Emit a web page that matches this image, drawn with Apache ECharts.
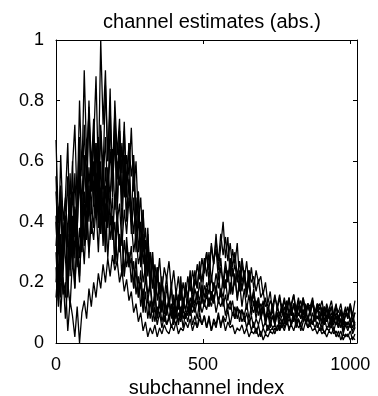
<!DOCTYPE html>
<html>
<head>
<meta charset="utf-8">
<script src="https://cdn.jsdelivr.net/npm/echarts@6/dist/echarts.min.js"></script>
<style>html,body{margin:0;padding:0;background:#fff}#c{width:378px;height:396px}</style>
</head>
<body>
<div id="c"></div>
<script>
// values read every 8 subchannels: 0,8,...,1016
const subchannelStep = 8;
const xTicks = [0, 500, 1000];

const est1 = [0.42,0.18,0.50,0.26,0.38,0.55,0.22,0.60,0.35,0.48,0.68,0.30,0.62,0.45,0.78,0.50,
0.66,0.88,0.55,1.00,0.72,0.90,0.60,0.84,0.48,0.80,0.62,0.74,0.45,0.70,0.52,0.66,
0.40,0.60,0.35,0.50,0.28,0.44,0.22,0.38,0.18,0.30,0.12,0.25,0.16,0.22,0.10,0.19,
0.12,0.20,0.08,0.17,0.13,0.22,0.10,0.19,0.15,0.24,0.12,0.21,0.18,0.27,0.15,0.25,
0.30,0.20,0.33,0.26,0.36,0.24,0.32,0.40,0.28,0.35,0.22,0.31,0.26,0.33,0.20,0.28,
0.22,0.15,0.24,0.12,0.18,0.10,0.15,0.08,0.12,0.06,0.10,0.05,0.09,0.06,0.10,0.04,
0.08,0.05,0.09,0.04,0.07,0.10,0.05,0.08,0.04,0.07,0.09,0.05,0.08,0.06,0.09,0.05,
0.07,0.04,0.08,0.05,0.06,0.09,0.04,0.07,0.05,0.08,0.03,0.06,0.04,0.07,0.03,0.05];

const est2 = [0.55,0.30,0.62,0.40,0.48,0.66,0.35,0.58,0.72,0.45,0.80,0.55,0.90,0.62,0.76,0.50,
0.70,0.42,0.62,0.36,0.58,0.30,0.52,0.40,0.48,0.26,0.44,0.30,0.38,0.22,0.35,0.25,
0.32,0.18,0.28,0.15,0.24,0.12,0.22,0.14,0.19,0.10,0.17,0.08,0.14,0.10,0.16,0.09,
0.14,0.08,0.16,0.10,0.13,0.18,0.11,0.20,0.14,0.22,0.16,0.24,0.18,0.26,0.20,0.28,
0.22,0.30,0.20,0.27,0.31,0.21,0.28,0.18,0.25,0.20,0.26,0.16,0.23,0.14,0.20,0.12,
0.18,0.11,0.16,0.09,0.14,0.08,0.13,0.10,0.14,0.08,0.12,0.09,0.13,0.07,0.12,0.09,
0.13,0.08,0.12,0.15,0.09,0.13,0.08,0.12,0.14,0.09,0.13,0.07,0.11,0.14,0.08,0.12,
0.10,0.07,0.12,0.08,0.11,0.06,0.10,0.13,0.07,0.10,0.06,0.09,0.12,0.07,0.10,0.06];

const est3 = [0.25,0.12,0.32,0.20,0.15,0.36,0.24,0.42,0.18,0.38,0.28,0.48,0.32,0.55,0.40,0.60,
0.45,0.66,0.50,0.72,0.56,0.85,0.60,0.78,0.50,0.70,0.44,0.64,0.38,0.58,0.42,0.54,
0.36,0.48,0.30,0.42,0.25,0.36,0.20,0.32,0.18,0.28,0.14,0.24,0.12,0.20,0.15,0.22,
0.12,0.18,0.09,0.16,0.11,0.19,0.13,0.17,0.10,0.15,0.12,0.18,0.14,0.20,0.13,0.19,
0.16,0.21,0.14,0.20,0.17,0.23,0.15,0.22,0.18,0.24,0.16,0.25,0.19,0.23,0.17,0.26,
0.21,0.27,0.19,0.25,0.18,0.24,0.20,0.22,0.16,0.20,0.13,0.17,0.10,0.15,0.12,0.16,
0.11,0.15,0.10,0.14,0.12,0.16,0.09,0.14,0.11,0.15,0.10,0.13,0.12,0.15,0.09,0.13,
0.11,0.14,0.09,0.13,0.10,0.12,0.08,0.12,0.10,0.13,0.08,0.11,0.09,0.12,0.07,0.10];

const est4 = [0.32,0.45,0.20,0.40,0.28,0.15,0.36,0.25,0.44,0.30,0.20,0.42,0.34,0.50,0.28,0.46,
0.38,0.55,0.42,0.60,0.35,0.58,0.46,0.64,0.50,0.68,0.44,0.70,0.56,0.73,0.48,0.66,
0.55,0.62,0.42,0.50,0.30,0.44,0.25,0.36,0.20,0.30,0.15,0.25,0.12,0.20,0.16,0.11,
0.15,0.09,0.14,0.10,0.16,0.08,0.13,0.11,0.15,0.09,0.14,0.12,0.17,0.10,0.16,0.13,
0.18,0.12,0.17,0.14,0.19,0.13,0.18,0.15,0.21,0.14,0.20,0.16,0.22,0.15,0.21,0.17,
0.23,0.18,0.24,0.20,0.22,0.17,0.21,0.15,0.17,0.12,0.13,0.09,0.11,0.07,0.10,0.08,
0.11,0.07,0.10,0.08,0.12,0.07,0.11,0.09,0.12,0.07,0.10,0.08,0.11,0.06,0.10,0.08,
0.09,0.06,0.10,0.07,0.09,0.05,0.08,0.06,0.09,0.05,0.08,0.06,0.07,0.05,0.08,0.05];

const est5 = [0.67,0.40,0.52,0.30,0.48,0.35,0.56,0.28,0.45,0.38,0.55,0.32,0.50,0.40,0.58,0.44,
0.60,0.42,0.55,0.36,0.50,0.30,0.46,0.34,0.42,0.26,0.40,0.30,0.36,0.22,0.32,0.25,
0.28,0.18,0.24,0.15,0.20,0.10,0.17,0.08,0.14,0.07,0.12,0.06,0.10,0.05,0.09,0.06,
0.08,0.11,0.06,0.10,0.07,0.12,0.08,0.11,0.09,0.13,0.10,0.12,0.08,0.14,0.10,0.13,
0.11,0.15,0.12,0.16,0.10,0.14,0.12,0.15,0.09,0.13,0.11,0.14,0.08,0.12,0.10,0.11,
0.07,0.10,0.06,0.09,0.05,0.08,0.06,0.09,0.05,0.07,0.04,0.07,0.05,0.06,0.04,0.07,
0.06,0.09,0.07,0.10,0.06,0.09,0.07,0.10,0.08,0.11,0.07,0.09,0.06,0.10,0.07,0.09,
0.07,0.10,0.06,0.09,0.05,0.08,0.06,0.09,0.05,0.08,0.04,0.07,0.05,0.06,0.04,0.06];

const est6 = [0.40,0.22,0.30,0.16,0.20,0.04,0.14,0.09,0.02,0.12,0.00,0.10,0.14,0.08,0.18,0.12,
0.20,0.15,0.23,0.18,0.26,0.20,0.28,0.22,0.29,0.24,0.27,0.20,0.24,0.17,0.21,0.14,
0.17,0.10,0.13,0.07,0.10,0.04,0.07,0.02,0.05,0.03,0.06,0.02,0.05,0.03,0.06,0.04,
0.03,0.06,0.04,0.07,0.03,0.05,0.04,0.07,0.05,0.08,0.04,0.07,0.05,0.08,0.06,0.09,
0.05,0.08,0.04,0.07,0.05,0.09,0.06,0.08,0.04,0.07,0.05,0.06,0.03,0.05,0.04,0.06,
0.03,0.05,0.02,0.04,0.03,0.05,0.02,0.04,0.01,0.03,0.02,0.04,0.03,0.05,0.04,0.06,
0.05,0.07,0.06,0.08,0.06,0.09,0.07,0.08,0.06,0.09,0.07,0.08,0.06,0.07,0.05,0.07,
0.04,0.06,0.03,0.05,0.04,0.06,0.03,0.04,0.02,0.04,0.01,0.03,0.02,0.04,0.01,0.03];

const est7 = [0.20,0.34,0.15,0.30,0.42,0.22,0.38,0.50,0.28,0.46,0.58,0.35,0.55,0.64,0.42,0.60,
0.50,0.66,0.45,0.70,0.52,0.68,0.48,0.72,0.58,0.76,0.54,0.70,0.46,0.62,0.40,0.55,
0.44,0.36,0.48,0.30,0.40,0.26,0.34,0.22,0.30,0.18,0.26,0.20,0.28,0.17,0.25,0.21,
0.27,0.18,0.24,0.16,0.22,0.14,0.20,0.15,0.22,0.17,0.24,0.19,0.26,0.21,0.28,0.23,
0.30,0.24,0.32,0.26,0.34,0.27,0.36,0.29,0.35,0.27,0.33,0.25,0.30,0.22,0.27,0.20,
0.24,0.17,0.20,0.13,0.16,0.10,0.13,0.08,0.11,0.07,0.10,0.08,0.11,0.07,0.12,0.09,
0.12,0.09,0.14,0.10,0.13,0.16,0.11,0.14,0.10,0.15,0.11,0.13,0.09,0.14,0.10,0.12,
0.13,0.09,0.12,0.08,0.11,0.14,0.09,0.12,0.08,0.11,0.09,0.12,0.08,0.13,0.07,0.10];

const est8 = [0.50,0.32,0.45,0.26,0.40,0.20,0.36,0.28,0.44,0.25,0.38,0.30,0.46,0.34,0.52,0.36,
0.48,0.56,0.38,0.50,0.32,0.46,0.28,0.42,0.34,0.40,0.26,0.36,0.22,0.34,0.25,0.30,
0.20,0.27,0.16,0.22,0.12,0.18,0.10,0.15,0.08,0.13,0.07,0.12,0.09,0.14,0.07,0.12,
0.08,0.13,0.07,0.12,0.06,0.11,0.05,0.10,0.07,0.12,0.06,0.09,0.05,0.10,0.06,0.09,
0.05,0.09,0.04,0.08,0.06,0.10,0.05,0.09,0.07,0.11,0.06,0.10,0.08,0.12,0.07,0.11,
0.09,0.13,0.08,0.12,0.10,0.14,0.09,0.13,0.11,0.15,0.10,0.14,0.12,0.16,0.11,0.15,
0.10,0.14,0.11,0.15,0.09,0.13,0.11,0.15,0.10,0.14,0.09,0.13,0.11,0.14,0.10,0.13,
0.08,0.12,0.07,0.11,0.09,0.12,0.07,0.10,0.08,0.11,0.06,0.10,0.08,0.13,0.09,0.14];

const est9 = [0.30,0.14,0.36,0.22,0.42,0.18,0.48,0.30,0.56,0.36,0.64,0.44,0.72,0.52,0.80,0.58,
0.74,0.50,0.68,0.46,0.62,0.40,0.58,0.48,0.64,0.44,0.60,0.52,0.66,0.48,0.62,0.55,
0.71,0.50,0.60,0.40,0.48,0.30,0.38,0.24,0.30,0.18,0.24,0.14,0.20,0.11,0.16,0.10,
0.14,0.09,0.12,0.08,0.13,0.10,0.15,0.11,0.14,0.12,0.16,0.13,0.17,0.14,0.19,0.15,
0.20,0.16,0.22,0.17,0.23,0.18,0.25,0.20,0.27,0.21,0.28,0.22,0.26,0.20,0.24,0.18,
0.22,0.16,0.20,0.14,0.17,0.12,0.15,0.09,0.12,0.08,0.10,0.07,0.09,0.06,0.10,0.07,
0.09,0.12,0.08,0.11,0.09,0.13,0.10,0.12,0.08,0.11,0.09,0.12,0.10,0.13,0.09,0.11,
0.08,0.11,0.09,0.12,0.08,0.10,0.07,0.09,0.06,0.08,0.05,0.07,0.06,0.08,0.05,0.07];

const est10 = [0.15,0.26,0.10,0.22,0.08,0.20,0.12,0.28,0.18,0.34,0.22,0.38,0.26,0.42,0.30,0.40,
0.34,0.45,0.30,0.48,0.36,0.52,0.38,0.50,0.34,0.48,0.40,0.46,0.32,0.44,0.36,0.48,
0.40,0.30,0.36,0.26,0.30,0.20,0.25,0.16,0.20,0.12,0.16,0.09,0.13,0.07,0.11,0.06,
0.09,0.05,0.08,0.06,0.10,0.07,0.11,0.08,0.12,0.09,0.13,0.10,0.14,0.11,0.15,0.12,
0.16,0.12,0.17,0.13,0.18,0.14,0.17,0.12,0.16,0.11,0.14,0.09,0.12,0.08,0.11,0.07,
0.09,0.05,0.08,0.04,0.07,0.03,0.06,0.02,0.05,0.03,0.06,0.04,0.05,0.03,0.06,0.04,
0.06,0.04,0.07,0.05,0.06,0.04,0.07,0.05,0.06,0.04,0.07,0.05,0.06,0.04,0.05,0.03,
0.05,0.03,0.04,0.02,0.04,0.03,0.05,0.02,0.04,0.01,0.03,0.02,0.03,0.01,0.02,0.01];

const estimates = [est1, est2, est3, est4, est5, est6, est7, est8, est9, est10];

const FONT = '"Liberation Sans", Arial, sans-serif';
const chart = echarts.init(document.getElementById('c'), null, {renderer: 'canvas'});

const series = estimates.map(arr => ({
  type: 'line',
  xAxisIndex: 0, yAxisIndex: 0,
  data: arr.map((v, i) => [i * subchannelStep, v]),
  showSymbol: false,
  symbol: 'none',
  animation: false,
  lineStyle: {color: '#000', width: 1.3},
  silent: true
}));

const axisCommon = {
  axisLine: {show: true, onZero: false, lineStyle: {color: '#000', width: 1}},
  splitLine: {show: false}
};

chart.setOption({
  animation: false,
  backgroundColor: '#fff',
  title: {
    text: 'channel estimates (abs.)',
    left: 207, top: 7, textAlign: 'center',
    textStyle: {fontFamily: FONT, fontSize: 20, fontWeight: 'normal', color: '#000'}
  },
  grid: {left: 56, right: 21, top: 40, bottom: 53, containLabel: false, outerBoundsMode: 'none'},
  xAxis: [
    Object.assign({}, axisCommon, {
      type: 'value', min: 0, max: 1023, position: 'bottom',
      name: 'subchannel index', nameLocation: 'middle', nameGap: 31,
      nameTextStyle: {fontFamily: FONT, fontSize: 20, color: '#000'},
      axisTick: {show: true, inside: true, length: 4, customValues: xTicks, lineStyle: {color: '#000'}},
      axisLabel: {show: true, customValues: xTicks, fontFamily: FONT, fontSize: 18, color: '#000', margin: 13,
        formatter: v => String(v)}
    }),
    Object.assign({}, axisCommon, {
      type: 'value', min: 0, max: 1023, position: 'top',
      axisTick: {show: true, inside: true, length: 4, customValues: xTicks, lineStyle: {color: '#000'}},
      axisLabel: {show: false}
    })
  ],
  yAxis: [
    Object.assign({}, axisCommon, {
      type: 'value', min: 0, max: 1, interval: 0.2, position: 'left',
      axisTick: {show: true, inside: true, length: 4, lineStyle: {color: '#000'}},
      axisLabel: {show: true, fontFamily: FONT, fontSize: 18, color: '#000', margin: 12,
        formatter: v => String(Math.round(v * 10) / 10)}
    }),
    Object.assign({}, axisCommon, {
      type: 'value', min: 0, max: 1, interval: 0.2, position: 'right',
      axisTick: {show: true, inside: true, length: 4, lineStyle: {color: '#000'}},
      axisLabel: {show: false}
    })
  ],
  series: series
});
</script>
</body>
</html>
